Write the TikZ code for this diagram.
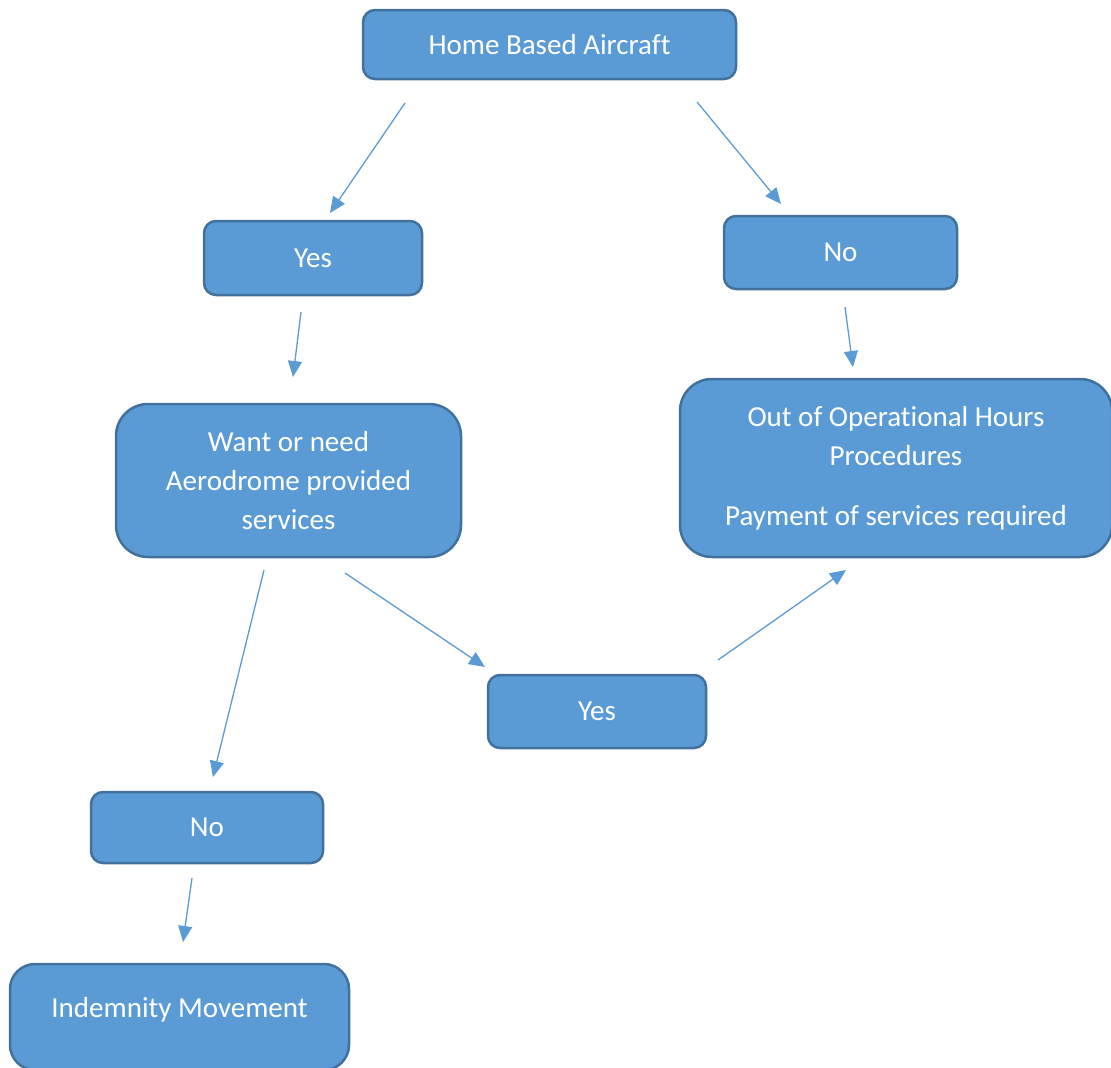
\documentclass[tikz,border=0pt]{standalone}
\usepackage{fontspec}
\setmainfont{Carlito}[Ligatures=NoCommon]
\usetikzlibrary{arrows.meta}

\newlength{\du}
\setlength{\du}{1pt}

\definecolor{boxfill}{HTML}{5B9BD5}
\definecolor{boxline}{HTML}{41719C}
\definecolor{arrowcolor}{HTML}{5B9BD5}

\tikzset{
  flowbox/.style={draw=boxline, fill=boxfill, line width=2.5\du, text=white,
    align=center, inner sep=0pt, rounded corners=12\du,
    font=\fontsize{29}{39}\selectfont},
  bigbox/.style={flowbox, rounded corners=32\du},
  flowarrow/.style={draw=arrowcolor, line width=1.3pt,
    -{Triangle[length=16pt,width=14pt]}}
}

\begin{document}
\begin{tikzpicture}[x=1\du, y=-1\du]
\useasboundingbox (0,0) rectangle (1111,1068);
% boxes
\node[flowbox, minimum width=373\du, minimum height=69\du] (home) at (549.5,44.5) {Home Based Aircraft};
\node[flowbox, minimum width=218\du, minimum height=74\du] (yesleft) at (313,258) {Yes};
\node[flowbox, minimum width=233\du, minimum height=73\du] (noright) at (840.5,252.5) {No};
\node[bigbox, minimum width=345\du, minimum height=153\du] (want) at (288.5,480.5) {Want or need\\Aerodrome provided\\services};
\node[bigbox, minimum width=432\du, minimum height=178\du] (outhours) at (896,468) {Out of Operat\kern0pt ional Hours\\Procedures\\[21\du]Payment of services required};
\node[flowbox, minimum width=218\du, minimum height=73\du] (yesmid) at (597,711.5) {Yes};
\node[flowbox, minimum width=232\du, minimum height=71\du] (noleft) at (207,827.5) {No};
\node[flowbox, rounded corners=25\du, minimum width=339\du, minimum height=106\du, text depth=20\du] (indemnity) at (179.5,1017) {Indemnity Movement};
% arrow ends
\coordinate (s1) at (405,103);  \coordinate (e1) at (330,213);
\coordinate (s2) at (697,102);  \coordinate (e2) at (781,204);
\coordinate (s3) at (301,312);  \coordinate (e3) at (293,377);
\coordinate (s4) at (845,307);  \coordinate (e4) at (853,367);
\coordinate (s5) at (264,570);  \coordinate (e5) at (213,777);
\coordinate (s6) at (345,573);  \coordinate (e6) at (485,667);
\coordinate (s7) at (718,660);  \coordinate (e7) at (846,570);
\coordinate (s8) at (192,878);  \coordinate (e8) at (183,942);
% arrows
\foreach \i in {1,...,8}
  \draw[flowarrow] (s\i) -- (e\i);
\end{tikzpicture}
\end{document}
